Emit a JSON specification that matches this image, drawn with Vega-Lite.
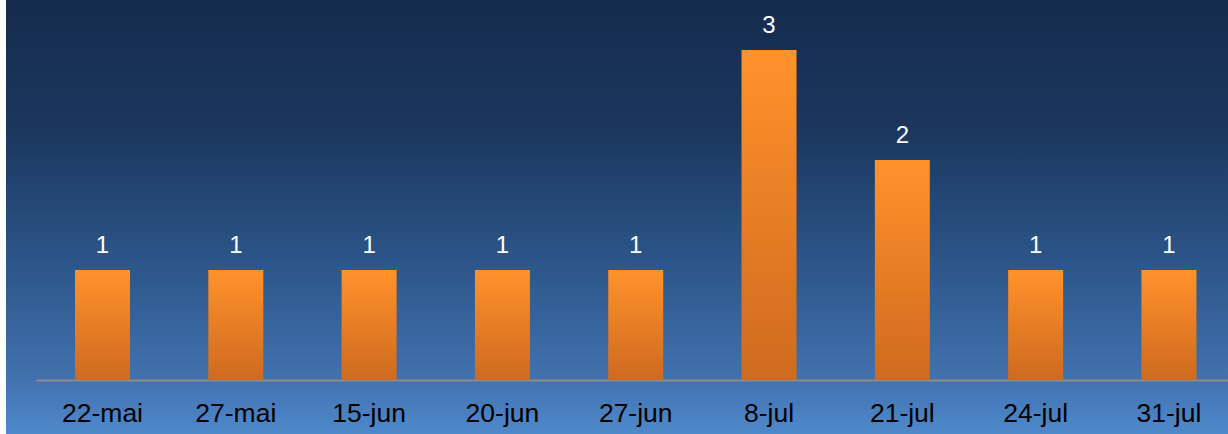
{
  "$schema": "https://vega.github.io/schema/vega-lite/v6.json",
  "width": 1222,
  "height": 434,
  "padding": {"left": 6, "top": 0, "right": 0, "bottom": 0},
  "autosize": {"type": "none"},
  "background": "white",
  "config": {
    "view": {
      "stroke": null,
      "fill": {
        "gradient": "linear",
        "x1": 0, "y1": 0, "x2": 0, "y2": 1,
        "stops": [
          {"offset": 0, "color": "#152b4d"},
          {"offset": 0.3, "color": "#1b375e"},
          {"offset": 0.6, "color": "#2c5588"},
          {"offset": 0.87, "color": "#4271ae"},
          {"offset": 1, "color": "#4e89cc"}
        ]
      }
    },
    "font": "Liberation Sans"
  },
  "data": {
    "values": [
      {"date": "22-mai", "count": 1},
      {"date": "27-mai", "count": 1},
      {"date": "15-jun", "count": 1},
      {"date": "20-jun", "count": 1},
      {"date": "27-jun", "count": 1},
      {"date": "8-jul", "count": 3},
      {"date": "21-jul", "count": 2},
      {"date": "24-jul", "count": 1},
      {"date": "31-jul", "count": 1}
    ]
  },
  "encoding": {
    "x": {
      "field": "date",
      "type": "nominal",
      "sort": null,
      "scale": {"range": [29.85, 1229.6], "paddingInner": 0.5875, "paddingOuter": 0.29375},
      "axis": {
        "title": null,
        "offset": -54,
        "ticks": false,
        "grid": false,
        "domainColor": "#8c8c8c",
        "domainWidth": 2,
        "labelAngle": 0,
        "labelFont": "Liberation Sans",
        "labelFontSize": 26.5,
        "labelColor": "#000000",
        "labelBaseline": "alphabetic",
        "labelPadding": 41
      }
    },
    "y": {
      "field": "count",
      "type": "quantitative",
      "scale": {"domain": [-0.490909, 3.454545], "nice": false, "zero": false},
      "axis": null
    }
  },
  "layer": [
    {
      "mark": {
        "type": "bar",
        "color": {
          "gradient": "linear",
          "x1": 0, "y1": 0, "x2": 0, "y2": 1,
          "stops": [
            {"offset": 0, "color": "#ff922b"},
            {"offset": 1, "color": "#cf6a1f"}
          ]
        }
      },
      "encoding": {"y2": {"datum": 0}}
    },
    {
      "mark": {
        "type": "text",
        "color": "white",
        "fontSize": 24,
        "baseline": "alphabetic",
        "dy": -17
      },
      "encoding": {"text": {"field": "count", "type": "quantitative"}}
    }
  ]
}
